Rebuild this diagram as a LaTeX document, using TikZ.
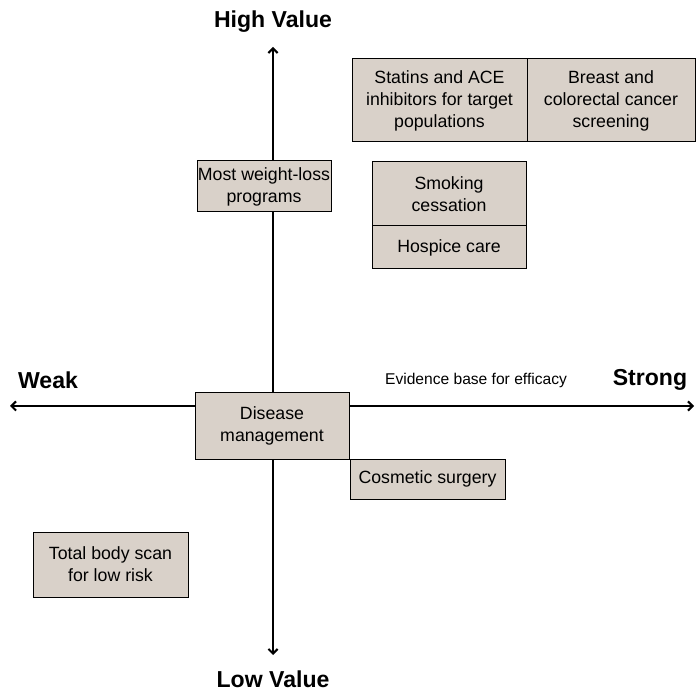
\documentclass[tikz,border=0pt]{standalone}
\usepackage{fontspec}
\setmainfont{Liberation Sans}
\usetikzlibrary{arrows.meta}

\definecolor{boxfill}{RGB}{217,209,201}
\tikzset{every picture/.style={line width=0.75pt}}
\tikzset{
  valuebox/.style={draw=black, fill=boxfill, align=center, inner sep=0pt,
    font=\fontsize{13.3}{16.5}\selectfont},
  axislabel/.style={inner sep=0pt, font=\fontsize{17.3}{20}\selectfont\bfseries},
  axisline/.style={line width=1.5pt, {Straight Barb[length=3.5pt,width=7pt]}-{Straight Barb[length=3.5pt,width=7pt]}}
}

\begin{document}
\begin{tikzpicture}[x=0.75pt,y=0.75pt,yscale=-1,xscale=1]
\useasboundingbox (0,0) rectangle (696,691);

% Axes
\coordinate (top) at (273,47);
\coordinate (bottom) at (273,655);
\coordinate (left) at (10,406);
\coordinate (right) at (694,406);
\draw [axisline] (bottom) -- (top);
\draw [axisline] (left) -- (right);

% Text Node
\node [axislabel] (high) at (273,22) {High Value};
% Text Node
\node [axislabel] (low) at (273,679) {Low Value};
% Text Node
\node [axislabel] (weak) at (48,380) {Weak};
% Text Node
\node [axislabel] (strong) at (650,380) {Strong};
% Text Node
\node [inner sep=0pt, font=\fontsize{11.7}{14}\selectfont] (evidence) at (476,380) {Evidence base for efficacy};

%Shape: Rectangle
\node [valuebox, minimum width=175*0.75pt, minimum height=83*0.75pt] (statins) at (439.5,100.5) {Statins and ACE\\inhibitors for target\\populations};
%Shape: Rectangle
\node [valuebox, minimum width=168*0.75pt, minimum height=83*0.75pt] (breast) at (611,100.5) {Breast and\\colorectal cancer\\screening};
%Shape: Rectangle
\node [valuebox, minimum width=134*0.75pt, minimum height=51*0.75pt] (weight) at (264,186.5) {Most weight-loss\\programs};
%Shape: Rectangle
\node [valuebox, minimum width=154*0.75pt, minimum height=64*0.75pt] (smoking) at (449,194) {Smoking\\cessation};
%Shape: Rectangle
\node [valuebox, minimum width=154*0.75pt, minimum height=43*0.75pt] (hospice) at (449,247.5) {Hospice care};
%Shape: Rectangle
\node [valuebox, minimum width=154*0.75pt, minimum height=66*0.75pt] (disease) at (272,426) {Disease\\management};
%Shape: Rectangle
\node [valuebox, minimum width=155*0.75pt, minimum height=40*0.75pt] (cosmetic) at (427.5,479) {Cosmetic surgery};
%Shape: Rectangle
\node [valuebox, minimum width=155*0.75pt, minimum height=65*0.75pt] (scan) at (110.5,564.5) {Total body scan\\for low risk};

\end{tikzpicture}
\end{document}
